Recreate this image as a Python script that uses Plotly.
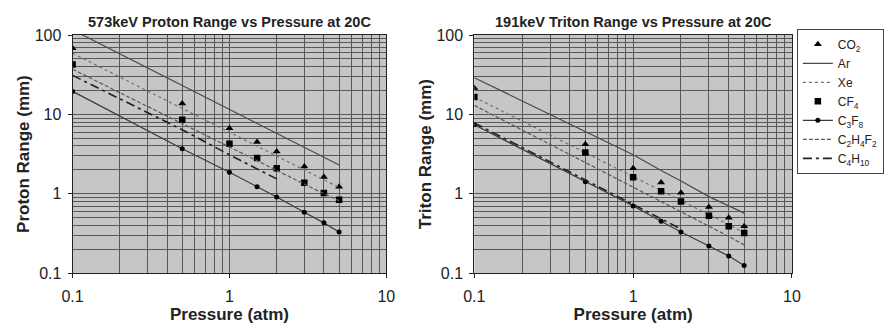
import plotly.graph_objects as go

pressure = [0.1, 0.5, 1, 1.5, 2, 3, 4, 5]
pressure_c4h10 = [0.1, 0.5, 1, 1.5, 2]

# 573 keV proton ranges (mm)
p_co2 = [68, 13.7, 6.7, 4.5, 3.4, 2.2, 1.63, 1.23]
p_ar = [116, 23.3, 11.6, 7.8, 5.8, 3.9, 2.9, 2.3]
p_xe = [59, 12.0, 6.0, 4.0, 3.0, 2.0, 1.5, 1.2]
p_cf4 = [42.5, 8.55, 4.27, 2.83, 2.09, 1.38, 1.02, 0.84]
p_c3f8 = [19.5, 3.7, 1.87, 1.23, 0.91, 0.585, 0.43, 0.33]
p_c2h4f2 = [37, 7.6, 3.9, 2.6, 1.98, 1.33, 1.0, 0.82]
p_c4h10 = [31, 6.4, 3.1, 2.05, 1.54]

# 191 keV triton ranges (mm)
t_co2 = [21.5, 4.2, 2.1, 1.39, 1.03, 0.68, 0.50, 0.39]
t_ar = [29, 6.1, 3.1, 1.96, 1.45, 0.92, 0.70, 0.57]
t_xe = [16.5, 3.3, 1.65, 1.1, 0.82, 0.55, 0.41, 0.32]
t_cf4 = [16.6, 3.3, 1.61, 1.08, 0.80, 0.53, 0.39, 0.32]
t_c3f8 = [7.4, 1.42, 0.70, 0.45, 0.33, 0.22, 0.164, 0.125]
t_c2h4f2 = [13, 2.5, 1.23, 0.81, 0.60, 0.39, 0.29, 0.227]
t_c4h10 = [7.8, 1.5, 0.74, 0.48, 0.36]

gas_names = ["CO<sub>2</sub>", "Ar", "Xe", "CF<sub>4</sub>", "C<sub>3</sub>F<sub>8</sub>",
             "C<sub>2</sub>H<sub>4</sub>F<sub>2</sub>", "C<sub>4</sub>H<sub>10</sub>"]
titles = ["573keV Proton Range vs Pressure at 20C", "191keV Triton Range vs Pressure at 20C"]
ytitles = ["Proton Range (mm)", "Triton Range (mm)"]
xtitle = "Pressure (atm)"
x_major = [0.1, 1, 10]
x_major_text = ["0.1", "1", "10"]
y_major = [0.1, 1, 10, 100]
y_major_text = ["0.1", "1", "10", "100"]

def minor_vals(decades):
    vals = []
    for d in decades:
        for m in range(2, 10):
            vals.append(m * d)
    return vals

x_minor = minor_vals([0.1, 1])
y_minor = minor_vals([0.1, 1, 10])

FONT = "Liberation Sans, Arial, sans-serif"
GRID = "#585858"
fig = go.Figure()

datasets = [
    (p_co2, p_ar, p_xe, p_cf4, p_c3f8, p_c2h4f2, p_c4h10),
    (t_co2, t_ar, t_xe, t_cf4, t_c3f8, t_c2h4f2, t_c4h10),
]

for i, (co2, ar, xe, cf4, c3f8, c2h4f2, c4h10) in enumerate(datasets):
    xa = "x" if i == 0 else "x2"
    ya = "y" if i == 0 else "y2"
    show = i == 1
    fig.add_trace(go.Scatter(x=pressure, y=co2, mode="markers", name=gas_names[0],
                             marker=dict(symbol="triangle-up", size=7, color="black"),
                             xaxis=xa, yaxis=ya, showlegend=show, legendrank=1))
    fig.add_trace(go.Scatter(x=pressure, y=ar, mode="lines", name=gas_names[1],
                             line=dict(color="#4a4a4a", width=1.2),
                             xaxis=xa, yaxis=ya, showlegend=show, legendrank=2))
    fig.add_trace(go.Scatter(x=pressure, y=xe, mode="lines", name=gas_names[2],
                             line=dict(color="#707070", width=1.2, dash="dot"),
                             xaxis=xa, yaxis=ya, showlegend=show, legendrank=3))
    fig.add_trace(go.Scatter(x=pressure, y=cf4, mode="markers", name=gas_names[3],
                             marker=dict(symbol="square", size=6.5, color="black"),
                             xaxis=xa, yaxis=ya, showlegend=show, legendrank=4))
    fig.add_trace(go.Scatter(x=pressure, y=c3f8, mode="lines+markers", name=gas_names[4],
                             line=dict(color="#3a3a3a", width=1.2),
                             marker=dict(symbol="circle", size=5, color="black"),
                             xaxis=xa, yaxis=ya, showlegend=show, legendrank=5))
    fig.add_trace(go.Scatter(x=pressure, y=c2h4f2, mode="lines", name=gas_names[5],
                             line=dict(color="#5a5a5a", width=1.2, dash="4px,2px"),
                             xaxis=xa, yaxis=ya, showlegend=show, legendrank=6))
    fig.add_trace(go.Scatter(x=pressure_c4h10, y=c4h10, mode="lines", name=gas_names[6],
                             line=dict(color="#202020", width=1.6, dash="9px,4px,3px,4px"),
                             xaxis=xa, yaxis=ya, showlegend=show, legendrank=7))

axis_common = dict(type="log", showline=True, linecolor="#222", linewidth=1, mirror=True,
                   showgrid=True, gridcolor=GRID, gridwidth=1,
                   ticks="outside", ticklen=4, tickcolor="#222", zeroline=False,
                   tickfont=dict(family=FONT, size=16, color="#222"))

xdomains = [[63 / 887, 384 / 887], [474 / 887, 799 / 887]]
ydomain = [(331 - 279.5) / 331, (331 - 28.5) / 331]

layout = dict(
    width=887, height=331,
    margin=dict(l=0, r=0, t=0, b=0),
    paper_bgcolor="white", plot_bgcolor="#c6c6c6",
    font=dict(family=FONT, color="#222"),
    legend=dict(x=804 / 887, y=1 - 22 / 331, xanchor="left", yanchor="top",
                bgcolor="white", bordercolor="#444", borderwidth=1,
                font=dict(family=FONT, size=12, color="#222"),
                itemwidth=30, tracegroupgap=0, traceorder="normal"),
    annotations=[],
)

for i in range(2):
    sx = "" if i == 0 else "2"
    layout["xaxis" + sx] = dict(axis_common, domain=xdomains[i], range=[-1, 1],
                                tickvals=x_major, ticktext=x_major_text, ticklabelstandoff=5,
                                minor=dict(tickvals=x_minor, showgrid=True, gridcolor=GRID, gridwidth=1, ticks=""),
                                anchor="y" + sx,
                                title=dict(text="<b>" + xtitle + "</b>", font=dict(family=FONT, size=17, color="#222"), standoff=3))
    layout["yaxis" + sx] = dict(axis_common, domain=ydomain, range=[-1, 2],
                                tickvals=y_major, ticktext=y_major_text, ticklabelstandoff=3,
                                minor=dict(tickvals=y_minor, showgrid=True, gridcolor=GRID, gridwidth=1, ticks=""),
                                anchor="x" + sx,
                                title=dict(text="<b>" + ytitles[i] + "</b>", font=dict(family=FONT, size=17, color="#222"), standoff=0))
    cx = (xdomains[i][0] + xdomains[i][1]) / 2
    layout["annotations"].append(dict(text="<b>" + titles[i] + "</b>", x=cx, y=1 - 15 / 331,
                                      xref="paper", yref="paper", showarrow=False,
                                      xanchor="center", yanchor="middle",
                                      font=dict(family=FONT, size=14.5, color="#222")))

fig.update_layout(**layout)
fig.write_html("out.html")
